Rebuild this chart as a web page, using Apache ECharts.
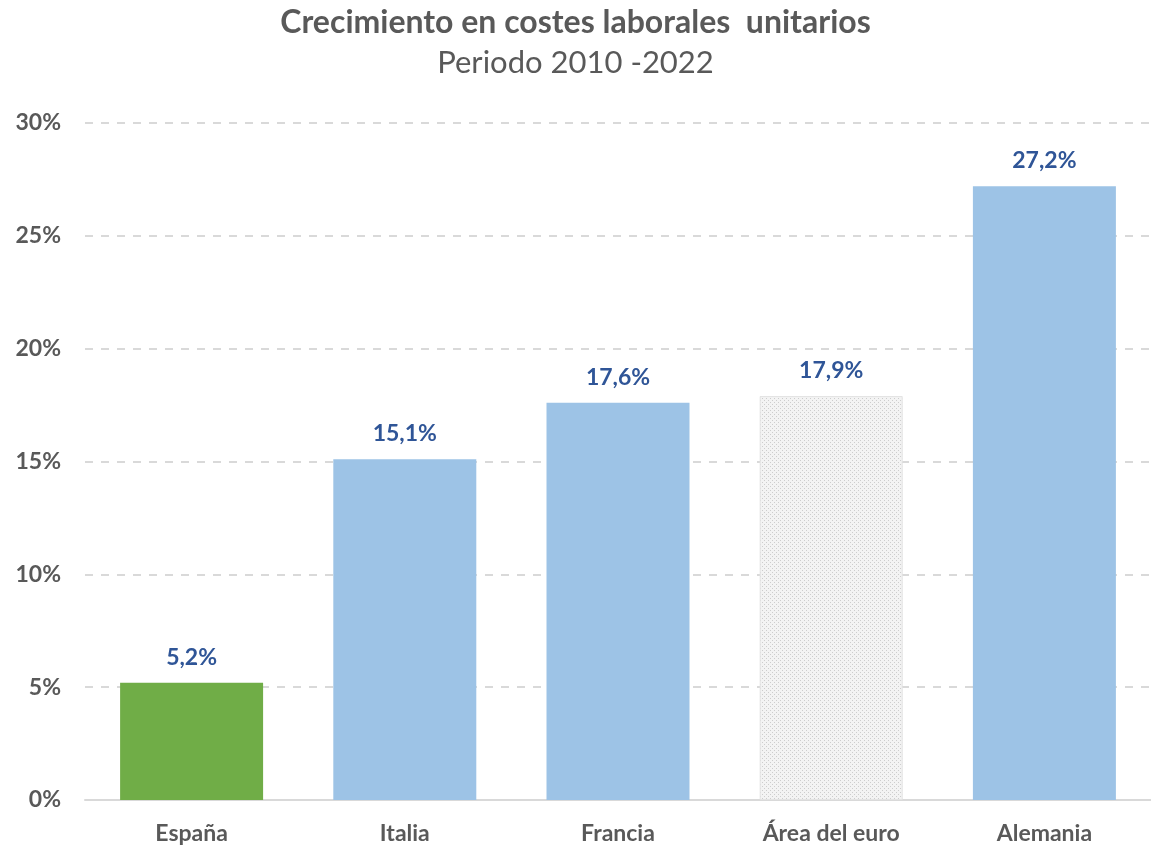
<!DOCTYPE html>
<html>
<head>
<meta charset="utf-8">
<script src="https://cdn.jsdelivr.net/npm/echarts@6/dist/echarts.min.js"></script>
<style>
  html, body { margin: 0; padding: 0; background: #fff; }
  #chart { width: 1151px; height: 851px; }
</style>
</head>
<body>
<div id="chart"></div>
<script>
const categories = ['España', 'Italia', 'Francia', 'Área del euro', 'Alemania'];
const values = [5.2, 15.1, 17.6, 17.9, 27.2];
const yTicks = [0, 5, 10, 15, 20, 25, 30];

// dotted fill for the euro area bar
function dotPattern() {
  const c = document.createElement('canvas');
  c.width = 4; c.height = 4;
  const ctx = c.getContext('2d');
  ctx.fillStyle = '#f3f3f3';
  ctx.fillRect(0, 0, 4, 4);
  ctx.fillStyle = '#cdcdcd';
  ctx.fillRect(0, 0, 1, 1);
  ctx.fillRect(2, 2, 1, 1);
  return c;
}

const barColors = ['#70ad47', '#9dc3e6', '#9dc3e6', { image: dotPattern(), repeat: 'repeat' }, '#9dc3e6'];

const chart = echarts.init(document.getElementById('chart'));
const font = 'Lato, "Open Sans", sans-serif';

chart.setOption({
  animation: false,
  title: {
    text: 'Crecimiento en costes laborales  unitarios',
    subtext: 'Periodo 2010 -2022',
    left: 'center',
    top: 2,
    itemGap: 8,
    textStyle: { fontFamily: font, fontSize: 32, fontWeight: 'bold', color: '#595959' },
    subtextStyle: { fontFamily: font, fontSize: 31, color: '#595959' }
  },
  grid: { left: 85, right: -15, top: 123, bottom: 51 },
  xAxis: {
    type: 'category',
    data: categories,
    axisTick: { show: false },
    axisLine: { lineStyle: { color: '#d9d9d9', width: 2 } },
    axisLabel: { margin: 22, fontFamily: font, fontSize: 23, fontWeight: 'bold', color: '#595959' }
  },
  yAxis: {
    type: 'value',
    min: yTicks[0],
    max: yTicks[yTicks.length - 1],
    interval: 5,
    axisLine: { show: false },
    axisTick: { show: false },
    axisLabel: {
      margin: 24,
      fontFamily: font, fontSize: 23, fontWeight: 'bold', color: '#595959',
      formatter: v => v + '%'
    },
    splitLine: { lineStyle: { color: '#d9d9d9', width: 2, type: [8, 8] } }
  },
  series: [{
    type: 'bar',
    barWidth: 143,
    data: values.map((v, i) => ({
      value: v,
      itemStyle: {
        color: barColors[i],
        borderColor: i === 3 ? '#e3e3e3' : undefined,
        borderWidth: i === 3 ? 1 : 0
      }
    })),
    label: {
      show: true,
      position: 'top',
      distance: 14,
      fontFamily: font, fontSize: 23, fontWeight: 'bold', color: '#2f5597',
      formatter: p => p.value.toFixed(1).replace('.', ',') + '%'
    }
  }]
});
</script>
</body>
</html>
